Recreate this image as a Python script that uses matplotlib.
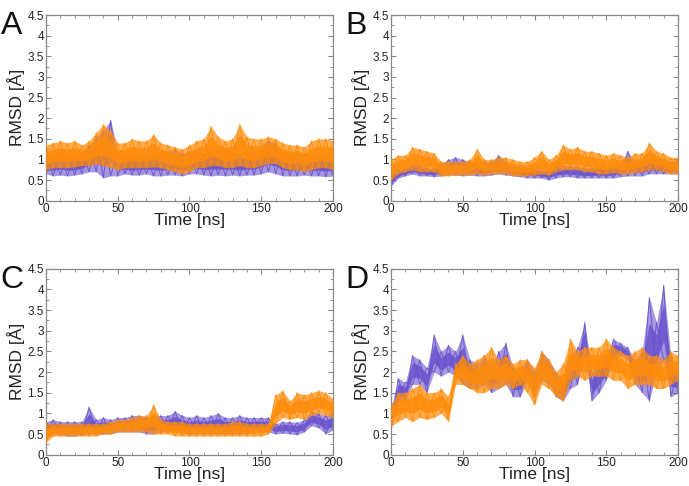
import numpy as np
import matplotlib
matplotlib.use("Agg")
import matplotlib.pyplot as plt
from matplotlib.ticker import MultipleLocator

plt.rcParams['font.family'] = ['Liberation Sans', 'DejaVu Sans']

# time grid (ns), values read every 5 ns: (low, high) envelope of each noisy trace
time_ns = list(range(0, 201, 5))

A_purple_lo = [0.65, 0.6, 0.62, 0.6, 0.62, 0.65, 0.7, 0.7, 0.55, 0.6, 0.6, 0.65, 0.62, 0.62, 0.65, 0.6, 0.6, 0.62, 0.62, 0.6, 0.65,
               0.65, 0.62, 0.6, 0.62, 0.6, 0.62, 0.6, 0.62, 0.62, 0.65, 0.7, 0.65, 0.6, 0.6, 0.6, 0.62, 0.6, 0.6, 0.58, 0.6]
A_purple_hi = [1.1, 1.15, 1.2, 1.15, 1.1, 1.2, 1.35, 1.55, 1.7, 1.95, 1.2, 1.1, 1.1, 1.15, 1.1, 1.2, 1.15, 1.2, 1.25, 1.15, 1.2,
               1.2, 1.15, 1.25, 1.2, 1.25, 1.2, 1.15, 1.2, 1.2, 1.35, 1.45, 1.4, 1.2, 1.15, 1.2, 1.15, 1.1, 1.15, 1.15, 1.15]
A_orange_lo = [0.75, 0.8, 0.8, 0.8, 0.82, 0.85, 0.85, 0.9, 0.85, 0.8, 0.75, 0.8, 0.8, 0.8, 0.8, 0.82, 0.8, 0.75, 0.7, 0.65, 0.7,
               0.8, 0.8, 0.85, 0.85, 0.8, 0.8, 0.85, 0.8, 0.8, 0.85, 0.9, 0.9, 0.8, 0.75, 0.75, 0.7, 0.75, 0.8, 0.8, 0.75]
A_orange_hi = [1.35, 1.4, 1.45, 1.4, 1.45, 1.35, 1.45, 1.65, 1.85, 1.7, 1.4, 1.4, 1.5, 1.45, 1.45, 1.6, 1.4, 1.35, 1.3, 1.25, 1.35,
               1.45, 1.5, 1.8, 1.55, 1.45, 1.5, 1.85, 1.55, 1.5, 1.5, 1.55, 1.5, 1.4, 1.35, 1.35, 1.3, 1.45, 1.5, 1.5, 1.45]

B_purple_lo = [0.35, 0.55, 0.6, 0.65, 0.6, 0.6, 0.58, 0.6, 0.62, 0.62, 0.6, 0.62, 0.6, 0.6, 0.62, 0.65, 0.62, 0.6, 0.58, 0.55, 0.55,
               0.55, 0.5, 0.55, 0.58, 0.58, 0.55, 0.55, 0.55, 0.55, 0.55, 0.55, 0.58, 0.6, 0.6, 0.6, 0.65, 0.65, 0.65, 0.65, 0.65]
B_purple_hi = [0.7, 0.75, 0.8, 0.9, 0.85, 0.8, 0.78, 0.9, 1.0, 1.05, 1.0, 0.95, 0.9, 0.95, 0.95, 1.1, 0.95, 0.85, 0.85, 0.8, 0.8,
               0.75, 0.75, 0.85, 0.85, 0.85, 0.85, 0.8, 0.8, 0.85, 0.8, 0.85, 0.9, 1.2, 0.95, 0.95, 1.05, 1.0, 1.0, 0.95, 1.0]
B_orange_lo = [0.5, 0.65, 0.7, 0.75, 0.7, 0.7, 0.7, 0.6, 0.6, 0.62, 0.62, 0.62, 0.65, 0.62, 0.65, 0.65, 0.65, 0.6, 0.6, 0.6, 0.62,
               0.65, 0.62, 0.7, 0.75, 0.75, 0.75, 0.7, 0.7, 0.65, 0.65, 0.68, 0.65, 0.65, 0.68, 0.7, 0.75, 0.75, 0.7, 0.65, 0.65]
B_orange_hi = [1.0, 1.1, 1.1, 1.3, 1.25, 1.2, 1.15, 0.95, 0.95, 0.95, 0.95, 1.0, 1.25, 1.0, 1.0, 1.05, 1.05, 1.0, 0.95, 0.95, 1.05,
               1.2, 1.0, 1.1, 1.35, 1.25, 1.3, 1.2, 1.2, 1.15, 1.1, 1.15, 1.1, 1.05, 1.15, 1.15, 1.4, 1.2, 1.15, 1.05, 1.05]

C_purple_lo = [0.4, 0.5, 0.48, 0.45, 0.45, 0.48, 0.5, 0.5, 0.5, 0.5, 0.55, 0.55, 0.55, 0.55, 0.5, 0.5, 0.55, 0.55, 0.55, 0.52, 0.5,
               0.5, 0.5, 0.5, 0.5, 0.5, 0.5, 0.5, 0.5, 0.55, 0.55, 0.55, 0.5, 0.52, 0.5, 0.48, 0.55, 0.7, 0.65, 0.5, 0.6]
C_purple_hi = [0.8, 0.85, 0.8, 0.8, 0.8, 0.8, 1.15, 0.85, 0.9, 0.85, 0.9, 0.9, 0.95, 0.95, 0.9, 0.95, 0.95, 0.95, 1.05, 0.95, 0.9,
               0.95, 0.9, 0.95, 1.0, 0.9, 0.9, 0.95, 0.9, 0.9, 0.9, 0.9, 0.75, 0.8, 0.8, 0.78, 0.85, 1.05, 1.0, 0.95, 1.0]
C_orange_lo = [0.3, 0.45, 0.45, 0.45, 0.45, 0.45, 0.45, 0.45, 0.5, 0.5, 0.55, 0.55, 0.55, 0.55, 0.55, 0.5, 0.5, 0.5, 0.45, 0.45, 0.45,
               0.45, 0.45, 0.45, 0.45, 0.45, 0.45, 0.45, 0.45, 0.45, 0.45, 0.5, 0.75, 0.9, 0.85, 0.9, 0.85, 0.95, 1.0, 0.95, 0.9]
C_orange_hi = [0.75, 0.75, 0.75, 0.75, 0.75, 0.75, 0.75, 0.75, 0.75, 0.8, 0.85, 0.85, 0.9, 0.95, 0.95, 1.2, 0.85, 0.8, 0.8, 0.8, 0.75,
               0.75, 0.75, 0.75, 0.75, 0.75, 0.8, 0.8, 0.75, 0.75, 0.75, 0.75, 1.45, 1.55, 1.3, 1.5, 1.45, 1.5, 1.55, 1.5, 1.35]

D_purple_lo = [0.6, 1.3, 1.3, 1.7, 1.7, 1.5, 2.0, 1.9, 2.0, 1.9, 1.7, 1.6, 1.6, 1.7, 1.5, 1.6, 1.7, 1.4, 1.4, 1.8, 1.4,
               1.8, 1.7, 1.4, 1.3, 1.6, 1.7, 2.4, 1.3, 1.5, 1.8, 2.3, 2.4, 2.3, 1.7, 1.5, 1.3, 2.0, 2.3, 1.4, 1.5]
D_purple_hi = [1.1, 1.85, 1.75, 2.4, 2.3, 2.1, 2.9, 2.5, 2.65, 2.5, 2.9, 2.3, 2.2, 2.4, 2.2, 2.5, 2.7, 2.1, 2.1, 2.3, 2.0,
               2.5, 2.3, 2.0, 1.8, 2.4, 2.6, 3.2, 2.0, 2.3, 2.4, 2.8, 2.7, 2.6, 2.3, 2.5, 3.8, 3.2, 4.1, 2.4, 2.0]
D_orange_lo = [0.7, 0.8, 0.9, 0.8, 0.9, 0.85, 0.9, 1.0, 0.8, 1.7, 1.7, 1.6, 1.5, 1.5, 1.6, 1.6, 1.7, 1.6, 1.7, 1.5, 1.2,
               1.7, 1.6, 1.4, 1.3, 1.8, 1.9, 1.8, 1.9, 1.9, 1.9, 1.8, 1.8, 1.6, 1.7, 1.7, 1.7, 1.6, 1.6, 1.7, 1.8]
D_orange_hi = [1.2, 1.5, 1.5, 1.6, 1.7, 1.5, 1.5, 1.6, 1.4, 2.2, 2.4, 2.2, 2.3, 2.4, 2.6, 2.3, 2.4, 2.2, 2.3, 2.3, 2.1,
               2.5, 2.3, 2.0, 2.2, 2.8, 2.5, 2.6, 2.6, 2.6, 2.8, 2.6, 2.5, 2.4, 2.5, 2.6, 2.4, 2.4, 2.3, 2.5, 2.4]

panels = [
    ("A", A_purple_lo, A_purple_hi, A_orange_lo, A_orange_hi),
    ("B", B_purple_lo, B_purple_hi, B_orange_lo, B_orange_hi),
    ("C", C_purple_lo, C_purple_hi, C_orange_lo, C_orange_hi),
    ("D", D_purple_lo, D_purple_hi, D_orange_lo, D_orange_hi),
]

PURPLE = "#6a52cc"
ORANGE = "#ff8c0a"
W, H = 689, 486
fig = plt.figure(figsize=(W / 100, H / 100), dpi=100)

# axes boxes in pixels: left, top, right, bottom
boxes = [(46, 15, 333, 200.7), (391, 15, 678, 200.7),
         (46, 268.7, 333, 454.7), (391, 268.7, 678, 454.7)]

t = np.array(time_ns, dtype=float)


def draw_trace(ax, lo, hi, color, z, a_out):
    lo = np.asarray(lo, dtype=float)
    hi = np.asarray(hi, dtype=float)
    ax.fill_between(t, lo, hi, color=color, alpha=a_out, lw=0, zorder=z)
    # zig-zag strokes between the read envelope values (noise texture)
    idx = np.arange(len(t))
    z1 = np.where(idx % 2 == 0, hi, lo)
    z2 = np.where(idx % 2 == 0, lo, hi)
    ax.plot(t, z1, color=color, lw=0.7, alpha=0.9, zorder=z + 0.1)
    ax.plot(t, z2, color=color, lw=0.7, alpha=0.9, zorder=z + 0.1)
    mid = (lo + hi) / 2
    ax.fill_between(t, (lo + mid) / 2, (hi + mid) / 2, color=color, alpha=0.85, lw=0, zorder=z + 0.2)


for (letter, plo, phi, olo, ohi), (l, tp, r, b) in zip(panels, boxes):
    ax = fig.add_axes([l / W, 1 - b / H, (r - l) / W, (b - tp) / H])
    draw_trace(ax, plo, phi, PURPLE, 2, 0.6)
    draw_trace(ax, olo, ohi, ORANGE, 3, 0.72)
    ax.set_xlim(0, 200)
    ax.set_ylim(0, 4.5)
    ax.xaxis.set_major_locator(MultipleLocator(50))
    ax.xaxis.set_minor_locator(MultipleLocator(10))
    ax.yaxis.set_minor_locator(MultipleLocator(0.25))
    ax.set_yticks(np.arange(0, 4.51, 0.5))
    ax.set_yticklabels(["0", "0.5", "1", "1.5", "2", "2.5", "3", "3.5", "4", "4.5"])
    ax.tick_params(which="both", direction="in", top=True, right=True, color="#888888",
                   labelsize=8.5, pad=1.5, labelcolor="#222222")
    ax.tick_params(which="major", length=3.5)
    ax.tick_params(which="minor", length=2)
    for s in ax.spines.values():
        s.set_color("#888888")
        s.set_linewidth(0.9)
    ax.set_xlabel("Time [ns]", fontsize=12.5, labelpad=-1, color="#222222")
    ax.set_ylabel("RMSD [Å]", fontsize=12.5, labelpad=2, color="#222222")
    fig.text((l - 46) / W + 0.001, 1 - (tp - 4) / H, letter, fontsize=23,
             va="top", ha="left", color="#111111")

fig.savefig("out.png", dpi=100)
